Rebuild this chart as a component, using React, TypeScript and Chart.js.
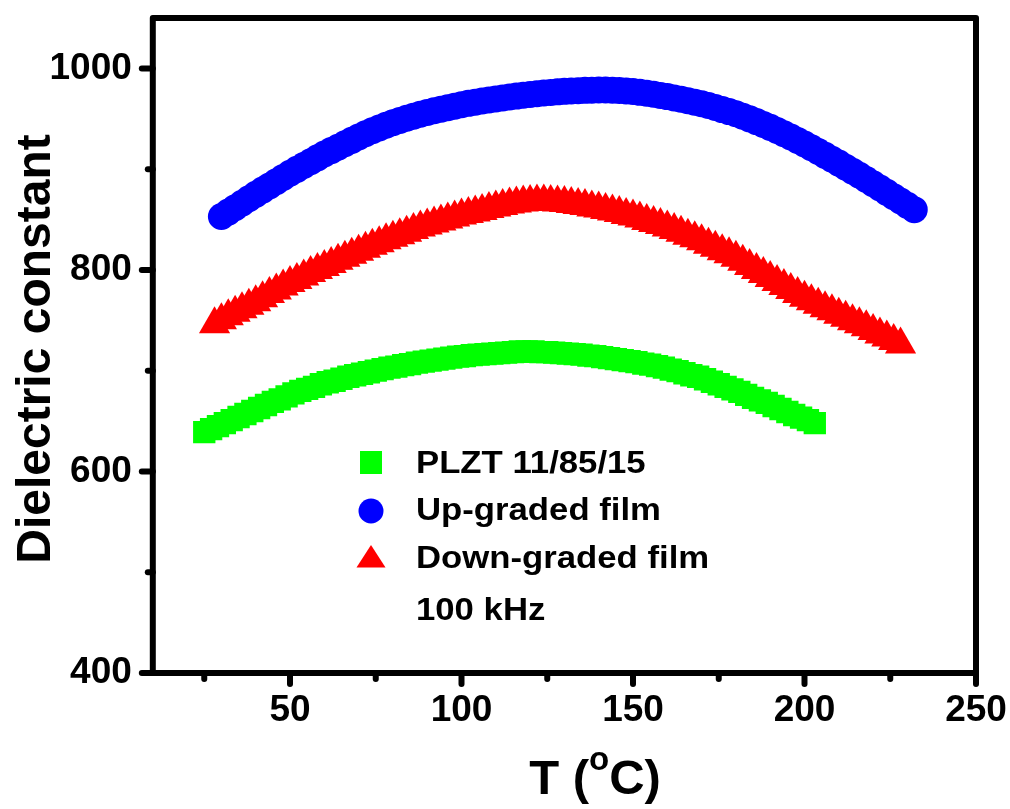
import React, { useEffect, useRef } from 'react';
import { Chart, registerables } from 'chart.js';

Chart.register(...registerables);

// ---- Data ----
const GREEN_T = [25,27,29,31,33,35,37,39,41,43,45,47,49,51,53,55,57,59,61,63,65,67,69,71,73,75,77,79,81,83,85,87,89,91,93,95,97,99,101,103,105,107,109,111,113,115,117,119,121,123,125,127,129,131,133,135,137,139,141,143,145,147,149,151,153,155,157,159,161,163,165,167,169,171,173,175,177,179,181,183,185,187,189,191,193,195,197,199,201,203];
const GREEN_VALUES = [639,642,645,648,651,654,657,660,663,666,669,671.5,674.5,677.5,680,682,684,686.5,688.5,690,692,694,695.5,697,698.5,700,701.5,703,704,705.5,706.5,708,709,710,711,712,713,714,714.5,715.5,716,716.5,717,717.5,718,718.5,719,719,719,718.5,718.5,718,717.5,717,716.5,716,715,714.5,713.5,712.5,711.5,710.5,709.5,708.5,707,706,704.5,703,701,699.5,697.5,695.5,694,691.5,689,686.5,684,681.5,679,676,673,670.5,668,665,662,659,656,653.5,651,648];

const BLUE_T = [30,32,34,36,38,40,42,44,46,48,50,52,54,56,58,60,62,64,66,68,70,72,74,76,78,80,82,84,86,88,90,92,94,96,98,100,102,104,106,108,110,112,114,116,118,120,122,124,126,128,130,132,134,136,138,140,142,144,146,148,150,152,154,156,158,160,162,164,166,168,170,172,174,176,178,180,182,184,186,188,190,192,194,196,198,200,202,204,206,208,210,212,214,216,218,220,222,224,226,228,230,232];
const BLUE_VALUES = [853,857.4,861.8,866.2,870.6,875,879.2,883.4,887.6,891.8,896,899.8,903.6,907.4,911.2,915,918.4,921.8,925.2,928.6,932,935.1,938.1,940.9,943.6,946.1,948.4,950.6,952.6,954.5,956.3,957.9,959.5,961,962.5,964,965.3,966.5,967.6,968.7,969.7,970.7,971.6,972.5,973.3,974.1,974.8,975.5,976.1,976.7,977.2,977.6,977.9,978.2,978.4,978.5,978.5,978.3,978,977.6,977,976.2,975.3,974.3,973.2,972,970.7,969.4,968,966.5,965,963.2,961.2,959.1,957.1,955,952.5,949.9,947.2,944.4,941.5,938.4,935.2,931.9,928.5,925,921.3,917.5,913.7,909.9,906,902,898,893.9,889.7,885.5,881.3,877,872.7,868.4,864.1,859.8];

const RED_T = [28,30,32,34,36,38,40,42,44,46,48,50,52,54,56,58,60,62,64,66,68,70,72,74,76,78,80,82,84,86,88,90,92,94,96,98,100,102,104,106,108,110,112,114,116,118,120,122,124,126,128,130,132,134,136,138,140,142,144,146,148,150,152,154,156,158,160,162,164,166,168,170,172,174,176,178,180,182,184,186,188,190,192,194,196,198,200,202,204,206,208,210,212,214,216,218,220,222,224,226,228];
const RED_VALUES = [746,750,754,757.5,761,764.5,768,772,776,779.5,783.5,787,790,793.5,797,800,803,806,809,812,815,818,821,824,826.5,829.5,832,834.5,837,839.5,842,844,846,848,850,852,854,855.5,857,858.5,860.5,862,863.5,865,866,867,867.5,868,868,867.5,867,866.5,865.5,864.5,863.5,862,861,859.5,858,856.5,854.5,853,851,848.5,846.5,844.5,842,839.5,837,834,831.5,828.5,825,822,818.5,815.5,812,808,804,800,796,792,788,784,780,776,772.5,769,765.5,762,759,755.5,752.5,749,746,743,739.5,736,733,729.5,726];

const SERIES_NAMES = ['PLZT 11/85/15', 'Up-graded film', 'Down-graded film'];
const NOTE = '100 kHz';

const X_TICK_LABELS = [50, 100, 150, 200, 250];
const X_MINOR_TICKS = [25, 75, 125, 175, 225];
const Y_TICK_LABELS = [400, 600, 800, 1000];
const Y_MINOR_TICKS = [500, 700, 900];

const X_TITLE_MAIN = 'T (';
const X_TITLE_SUP = 'o';
const X_TITLE_END = 'C)';
const Y_TITLE = 'Dielectric constant';

const GREEN = '#00ff00';
const BLUE = '#0000ff';
const RED = '#ff0000';
const FONT = "'Liberation Sans', Arial, Helvetica, sans-serif";

const pairs = (xs: number[], ys: number[]) => xs.map((x, i) => ({ x, y: ys[i] }));

const decorPlugin = {
  id: 'decor',
  afterDatasetsDraw(chart: any) {
    const { ctx, chartArea: a, scales } = chart;
    const xs = scales.x;
    const ys = scales.y;
    ctx.save();
    // frame
    ctx.strokeStyle = '#000';
    ctx.lineWidth = 6;
    ctx.lineJoin = 'round';
    ctx.strokeRect(a.left, a.top, a.right - a.left, a.bottom - a.top);
    // ticks
    ctx.lineCap = 'round';
    const seg = (x1: number, y1: number, x2: number, y2: number) => {
      ctx.beginPath();
      ctx.moveTo(x1, y1);
      ctx.lineTo(x2, y2);
      ctx.stroke();
    };
    X_TICK_LABELS.forEach((v) => { const p = xs.getPixelForValue(v); seg(p, a.bottom, p, a.bottom + 11); });
    X_MINOR_TICKS.forEach((v) => { const p = xs.getPixelForValue(v); seg(p, a.bottom, p, a.bottom + 6); });
    Y_TICK_LABELS.forEach((v) => { const p = ys.getPixelForValue(v); seg(a.left, p, a.left - 11, p); });
    Y_MINOR_TICKS.forEach((v) => { const p = ys.getPixelForValue(v); seg(a.left, p, a.left - 5, p); });

    // axis titles
    ctx.fillStyle = '#000';
    ctx.textBaseline = 'alphabetic';
    ctx.save();
    ctx.translate(50, 349);
    ctx.rotate(-Math.PI / 2);
    ctx.textAlign = 'center';
    ctx.font = `bold 48px ${FONT}`;
    ctx.fillText(Y_TITLE, 0, 0);
    ctx.restore();

    ctx.textAlign = 'left';
    const big = `bold 49px ${FONT}`;
    const small = `bold 33px ${FONT}`;
    ctx.font = big;
    const w1 = ctx.measureText(X_TITLE_MAIN).width;
    const w3 = ctx.measureText(X_TITLE_END).width;
    ctx.font = small;
    const w2 = ctx.measureText(X_TITLE_SUP).width;
    let x0 = 595 - (w1 + w2 + w3) / 2;
    const base = 794;
    ctx.font = big;
    ctx.fillText(X_TITLE_MAIN, x0, base);
    x0 += w1;
    ctx.font = small;
    ctx.fillText(X_TITLE_SUP, x0, base - 24);
    x0 += w2;
    ctx.font = big;
    ctx.fillText(X_TITLE_END, x0, base);

    // legend
    const mx = 371;
    ctx.fillStyle = GREEN;
    ctx.fillRect(mx - 11, 451, 22, 23);
    ctx.fillStyle = BLUE;
    ctx.beginPath();
    ctx.arc(mx, 511, 12.5, 0, Math.PI * 2);
    ctx.fill();
    ctx.fillStyle = RED;
    ctx.beginPath();
    ctx.moveTo(mx, 545);
    ctx.lineTo(mx + 14.5, 567.5);
    ctx.lineTo(mx - 14.5, 567.5);
    ctx.closePath();
    ctx.fill();

    ctx.fillStyle = '#000';
    ctx.font = `bold 31px ${FONT}`;
    const rows: [string, number][] = [
      [SERIES_NAMES[0], 473],
      [SERIES_NAMES[1], 520],
      [SERIES_NAMES[2], 568],
      [NOTE, 620],
    ];
    rows.forEach(([t, y]) => {
      ctx.save();
      ctx.translate(416, y);
      ctx.scale(1.12, 1);
      ctx.fillText(t, 0, 0);
      ctx.restore();
    });
    ctx.restore();
  },
};

export default function App() {
  const ref = useRef<HTMLCanvasElement | null>(null);
  useEffect(() => {
    if (!ref.current) return;
    const tickFont = { family: FONT, size: 37, weight: 'bold' as const };
    const chart = new Chart(ref.current, {
      type: 'scatter',
      data: {
        datasets: [
          {
            label: SERIES_NAMES[0],
            data: pairs(GREEN_T, GREEN_VALUES),
            pointStyle: 'rect',
            pointRadius: 15.8,
            backgroundColor: GREEN,
            borderColor: GREEN,
            pointBorderWidth: 0,
            showLine: false,
          },
          {
            label: SERIES_NAMES[1],
            data: pairs(BLUE_T, BLUE_VALUES),
            pointStyle: 'circle',
            pointRadius: 13.5,
            backgroundColor: BLUE,
            borderColor: BLUE,
            pointBorderWidth: 0,
            showLine: false,
          },
          {
            label: SERIES_NAMES[2],
            data: pairs(RED_T, RED_VALUES),
            pointStyle: 'triangle',
            pointRadius: 18,
            backgroundColor: RED,
            borderColor: RED,
            pointBorderWidth: 0,
            showLine: false,
          },
        ],
      },
      options: {
        animation: false,
        responsive: false,
        devicePixelRatio: 1,
        layout: { padding: { top: 13, right: 34, left: 0, bottom: 0 } },
        plugins: { legend: { display: false }, tooltip: { enabled: false } },
        scales: {
          x: {
            type: 'linear',
            min: 10,
            max: 250,
            afterBuildTicks: (s: any) => { s.ticks = X_TICK_LABELS.map((v) => ({ value: v })); },
            afterFit: (s: any) => { s.height = 136; s.paddingLeft = 0; s.paddingRight = 0; },
            ticks: { autoSkip: false, maxRotation: 0, padding: 16, color: '#000', font: tickFont, callback: (v: any) => String(v) },
            grid: { display: false, drawTicks: false },
            border: { display: false },
          },
          y: {
            type: 'linear',
            min: 400,
            max: 1050,
            afterBuildTicks: (s: any) => { s.ticks = Y_TICK_LABELS.map((v) => ({ value: v })); },
            afterFit: (s: any) => { s.width = 152.8; s.paddingTop = 0; s.paddingBottom = 0; },
            ticks: { autoSkip: false, padding: 21, color: '#000', font: tickFont, callback: (v: any) => String(v) },
            grid: { display: false, drawTicks: false },
            border: { display: false },
          },
        },
      },
      plugins: [decorPlugin],
    });
    return () => chart.destroy();
  }, []);
  return (
    <div style={{ position: 'fixed', left: 0, top: 0, width: 1010, height: 809, background: '#fff' }}>
      <canvas ref={ref} width={1010} height={809} style={{ width: 1010, height: 809 }} />
    </div>
  );
}
